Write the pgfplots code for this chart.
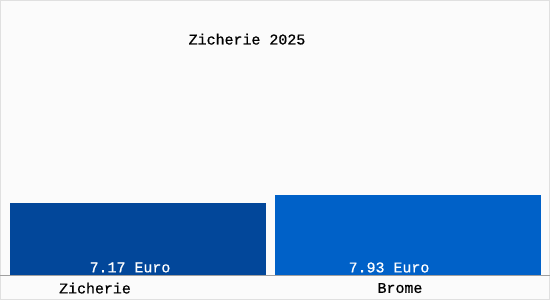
\documentclass[border=0pt]{standalone}
\usepackage{pgfplots}
\pgfplotsset{compat=1.18}
\usepackage{fontspec}
\setmainfont{Liberation Mono}[FakeBold=0.6]
\definecolor{barA}{HTML}{02479A}
\definecolor{barB}{HTML}{0061C8}
\definecolor{bg}{HTML}{FBFBFB}
\definecolor{frame}{HTML}{E0E0E0}
\definecolor{axl}{HTML}{A0A0A0}
\begin{document}
\begin{tikzpicture}[x=1bp,y=1bp]
\fontsize{15}{17}\selectfont
\useasboundingbox (0,0) rectangle (550,300);
\fill[bg] (0,0) rectangle (550,300);
\draw[frame,line width=1bp] (0.5,0.5) rectangle (549.5,299.5);
\begin{axis}[
  at={(0,25bp)}, anchor=south west,
  width=550bp, height=275bp, scale only axis,
  xmin=0, xmax=550, ymin=0, ymax=27.4,
  axis x line=bottom, axis y line=none,
  axis line style={axl, -, line width=1bp},
  xtick=\empty, ytick=\empty,
  clip=false,
  ybar, bar shift=0pt,
]
\addplot[fill=barA, draw=none, bar width=256bp] coordinates {(138,7.17)};
\addplot[fill=barB, draw=none, bar width=266bp] coordinates {(408,7.93)};
\node[white] at (axis cs:130,0.75) {7.17 Euro};
\node[white] at (axis cs:389,0.75) {7.93 Euro};
\node[black] at (axis cs:95,-1.3) {Zicherie};
\node[black] at (axis cs:400,-1.3) {Brome};
\node[black] at (axis cs:247,23.5) {Zicherie 2025};
\end{axis}
\end{tikzpicture}
\end{document}
